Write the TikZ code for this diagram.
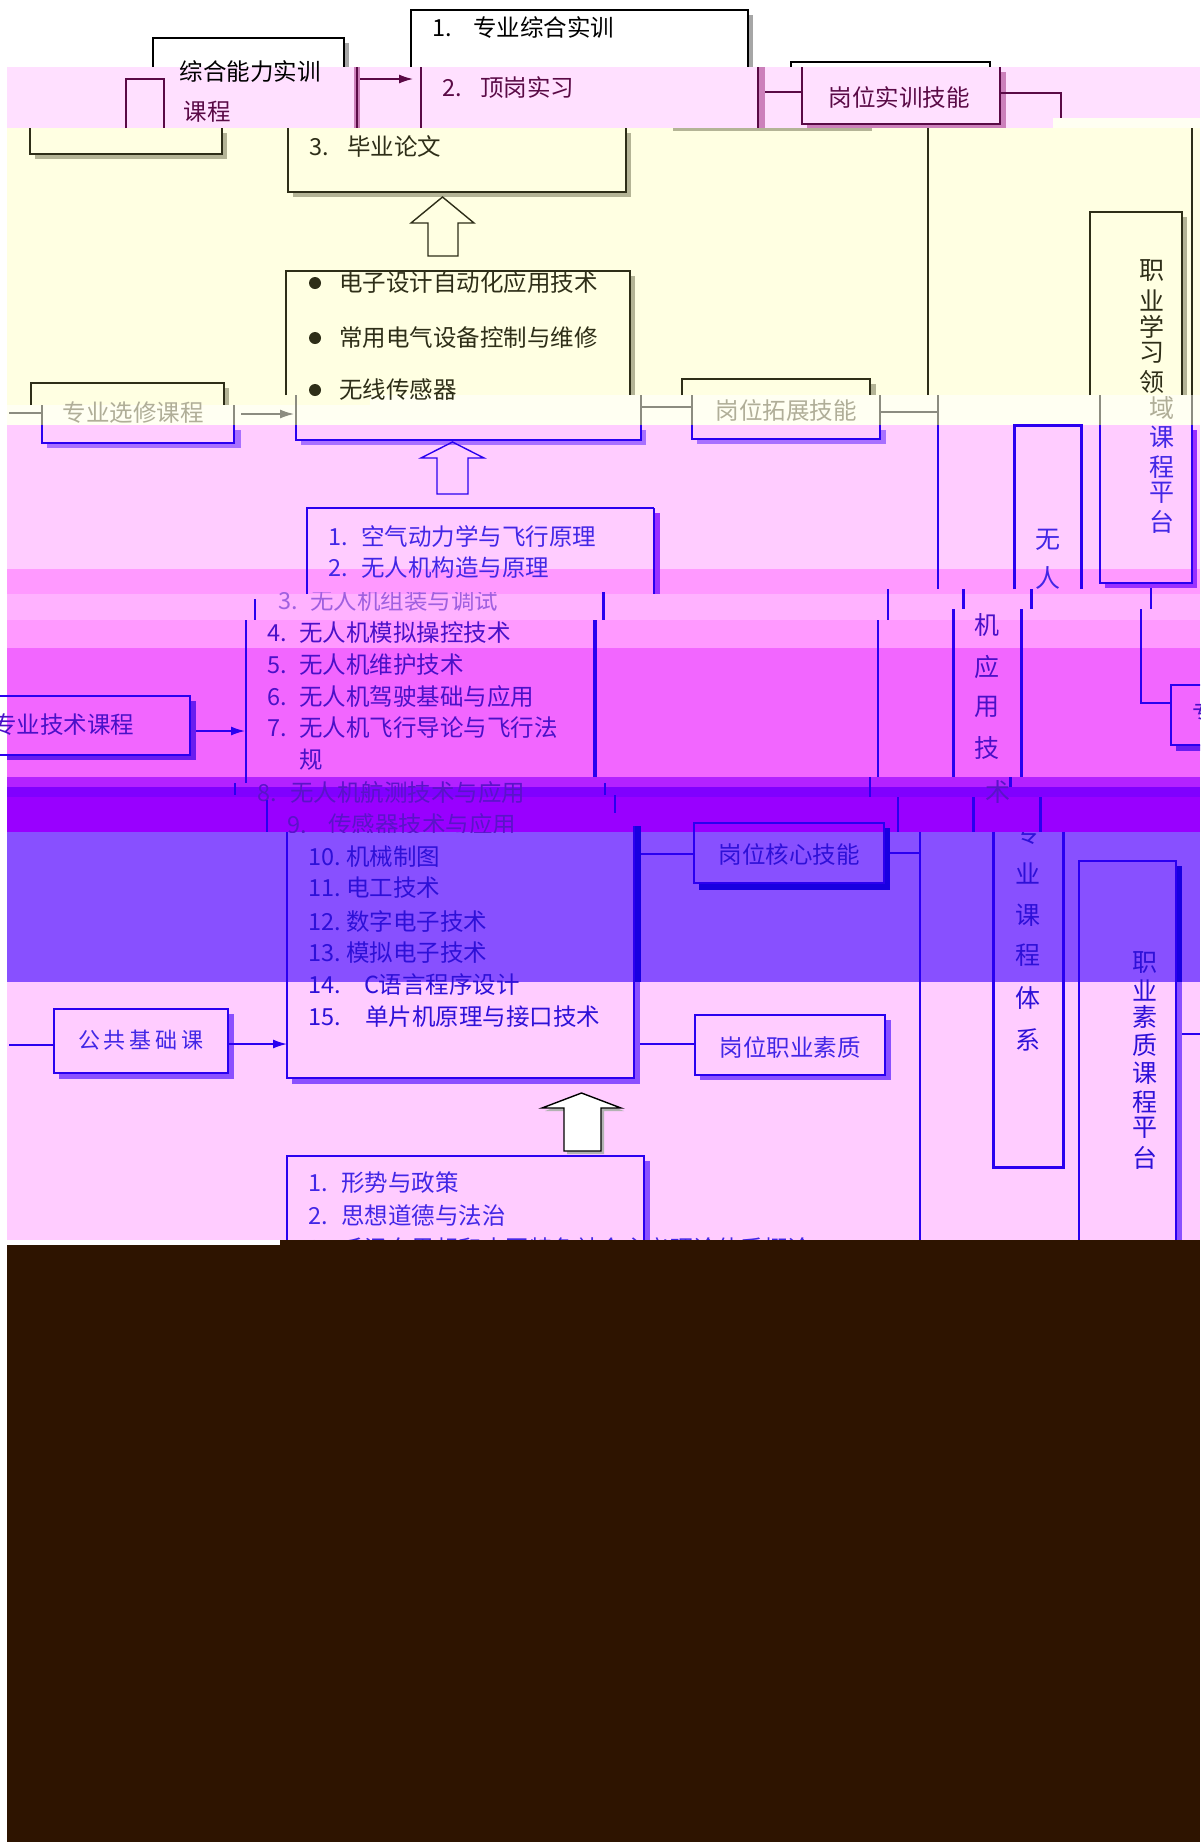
\documentclass[tikz,border=0pt]{standalone}
\usepackage{fontspec}
\newfontfamily\cjk{Noto Sans CJK SC}
\usetikzlibrary{arrows.meta}
\definecolor{pkA}{HTML}{FFE0FF}
\definecolor{yel}{HTML}{FFFFE2}
\definecolor{wht}{HTML}{FFFFF2}
\definecolor{pkB}{HTML}{FFCCFF}
\definecolor{pkC}{HTML}{FF99FF}
\definecolor{pkD}{HTML}{FFB2FF}
\definecolor{mag}{HTML}{F266FF}
\definecolor{vioA}{HTML}{B322FF}
\definecolor{vioB}{HTML}{8000FF}
\definecolor{vioC}{HTML}{9900FF}
\definecolor{pur}{HTML}{8850FF}
\definecolor{brn}{HTML}{2E1400}
\definecolor{mar}{HTML}{5A0A46}
\definecolor{marS}{HTML}{CC80BB}
\definecolor{olv}{HTML}{2E2E18}
\definecolor{olvS}{HTML}{B4B496}
\definecolor{gry}{HTML}{8C8C80}
\definecolor{gryT}{HTML}{B0AE98}
\definecolor{blu}{HTML}{2A00F0}
\definecolor{bluS}{HTML}{A870FF}
\definecolor{vS}{HTML}{9A30FF}
\definecolor{mS}{HTML}{6A1CF0}
\definecolor{bluT}{HTML}{4226E6}
\definecolor{magT}{HTML}{4A10C8}
\definecolor{vioT}{HTML}{5A14C8}
\definecolor{lilT}{HTML}{A060E0}
\definecolor{purT}{HTML}{2E10D8}
\definecolor{purS}{HTML}{1800E0}
\definecolor{lowS}{HTML}{8A50FF}
\newcommand\itm[6]{%
  \node[tx,anchor=base west] (#1n) at (#2,#4+8.5) {#5};
  \node[tx,anchor=base west] (#1t) at (#3,#4+8.5) {#6};}
\begin{document}
\begin{tikzpicture}[x=1pt,y=-1pt,
  tx/.style={font={\cjk\fontsize{23.5pt}{28pt}\selectfont}, inner sep=0pt, outer sep=0pt},
  vt/.style={font={\cjk\fontsize{25pt}{28pt}\selectfont}, inner sep=0pt, outer sep=0pt},
  ln/.style={line width=1.4pt},
  tk/.style={line width=3pt},
  arr/.style={ln,-{Latex[length=14pt,width=9pt]}},
]
\useasboundingbox (0,0) rectangle (1200,1842);
\clip (0,0) rectangle (1200,1842);
% ---------------- background bands
\fill[white] (0,0) rectangle (1200,1842);
\fill[pkA] (7,67) rectangle (1200,128);
\fill[yel] (7,128) rectangle (1200,395);
\fill[yel] (7,395) rectangle (370,405);
\fill[wht] (1053,118) rectangle (1200,128);
\fill[wht] (370,395) rectangle (1200,425);
\fill[wht] (7,405) rectangle (370,425);
\fill[pkB] (7,425) rectangle (1200,569);
\fill[pkC] (7,569) rectangle (1200,594);
\fill[pkD] (7,594) rectangle (1200,620);
\fill[pkC] (7,620) rectangle (1200,648);
\fill[mag] (7,648) rectangle (1200,777);
\fill[vioA] (7,777) rectangle (1200,787);
\fill[vioB] (7,787) rectangle (1200,797);
\fill[vioC] (7,797) rectangle (1200,832);
\fill[pur] (7,832) rectangle (1200,982);
\fill[pkB] (7,982) rectangle (1200,1240);

% ---------------- white band
\fill[gray!70] (748,15) rectangle (753,67);
\draw[ln] (411,67) |- (748,10) -- (748,67);
\itm{a1}{432}{473}{28}{1.}{专业综合实训}
\fill[gray!70] (344,43) rectangle (349,67);
\draw[ln] (153,67) |- (344,38) -- (344,67);
\draw[ln] (791,67) |- (990,62) -- (990,67);

% ---------------- pink band A
\draw[ln,mar] (126,128) |- (164,79) -- (164,128);
\fill[marS] (354,67) rectangle (360,128);
\draw[ln,mar] (357,67) -- (357,128);
\draw[arr,mar] (360,79) -- (413,79);
\draw[ln,mar] (421,67) -- (421,128);
\fill[marS] (757,67) rectangle (765,128);
\draw[ln,mar] (758,67) -- (758,128);
\draw[ln,mar] (765,92) -- (802,92);
\fill[marS] (1000,72) rectangle (1006,128);
\fill[marS] (807,124) rectangle (1006,128);
\draw[ln,mar] (802,67) |- (1000,124) -- (1000,67);
\node[tx,text=mar] (gwsx) at (899,97) {岗位实训技能};
\draw[ln,mar] (1000,93) -| (1061,118);
\node[tx,text=mar] (kc) at (207,112) {课程};
\node[tx] (zh) at (250,72) {综合能力实训};
\begin{scope}[text=mar]
\itm{a2}{442}{480}{88}{2.}{顶岗实习}
\end{scope}

% ---------------- yellow band
\fill[olvS] (222,133) rectangle (227,159);
\fill[olvS] (35,154) rectangle (227,159);
\draw[ln,olv] (30,128) |- (222,154) -- (222,128);
\fill[olvS] (626,133) rectangle (631,197);
\fill[olvS] (293,192) rectangle (631,197);
\draw[ln,olv] (288,128) |- (626,192) -- (626,128);
\fill[olvS] (673,128) rectangle (872,131);
\begin{scope}[text=olv]
\itm{a3}{309}{347}{147}{3.}{毕业论文}
\end{scope}
\draw[ln,olv] (428,256) -- (428,223) -- (411,223) -- (442.5,197) -- (474,223) -- (458,223) -- (458,256) -- cycle;
\fill[olvS] (630,276) rectangle (635,395);
\draw[ln,olv] (286,395) |- (630,271) -- (630,395);
\fill[olv] (315,283) circle (6pt);
\fill[olv] (315,338) circle (6pt);
\fill[olv] (315,390) circle (6pt);
\node[tx,text=olv,anchor=base west] (b1) at (339,291.5) {电子设计自动化应用技术};
\node[tx,text=olv,anchor=base west] (b2) at (339,346.5) {常用电气设备控制与维修};
\node[tx,text=olv,anchor=base west] (b3) at (339,398.5) {无线传感器};
\fill[olvS] (224,388) rectangle (229,405);
\draw[ln,olv] (31,405) |- (224,383) -- (224,405);
\fill[olvS] (870,384) rectangle (876,395);
\draw[ln,olv] (682,395) |- (870,379) -- (870,395);
\draw[ln,olv] (928,128) -- (928,395);
\fill[olvS] (1182,217) rectangle (1187,395);
\draw[ln,olv] (1090,395) |- (1182,212) -- (1182,395);
\draw[ln,olv] (1192,128) -- (1192,395);
\begin{scope}[text=olv]
\node[vt] (z1) at (1152,271) {职};
\node[vt] (z2) at (1152,300) {业};
\node[vt] (z3) at (1152,327) {学};
\node[vt] (z4) at (1152,353) {习};
\node[vt] (z5) at (1152,382) {领};
\end{scope}

% ---------------- whitish strip and pink band B
\fill[bluS] (234,430) rectangle (241,448);
\fill[bluS] (47,443) rectangle (241,448);
\draw[ln,gry] (42,405) -- (42,425);
\draw[ln,gry] (234,405) -- (234,425);
\draw[ln,blu] (42,425) |- (234,443) -- (234,425);
\draw[ln,gry] (9,413) -- (42,413);
\draw[arr,gry] (241,414) -- (294,414);
\node[tx,text=gryT] (zxxk) at (133,413) {专业选修课程};
\fill[bluS] (641,430) rectangle (646,445);
\fill[bluS] (301,440) rectangle (646,445);
\draw[ln,gry] (296,395) -- (296,425);
\draw[ln,gry] (641,395) -- (641,425);
\draw[ln,blu] (296,425) |- (641,440) -- (641,425);
\draw[ln,gry] (641,407) -- (692,407);
\fill[bluS] (880,430) rectangle (886,444);
\fill[bluS] (697,439) rectangle (886,444);
\draw[ln,gry] (692,395) -- (692,425);
\draw[ln,gry] (880,395) -- (880,425);
\draw[ln,blu] (692,425) |- (880,439) -- (880,425);
\node[tx,text=gryT] (gwtz) at (786,410) {岗位拓展技能};
\draw[ln,gry] (880,412) -- (938,412);
\draw[ln,gry] (938,395) -- (938,425);
\draw[ln,blu] (938,425) -- (938,589);
\fill[vS] (1192,430) rectangle (1197,588);
\fill[vS] (1105,583) rectangle (1197,588);
\draw[ln,gry] (1100,395) -- (1100,425);
\draw[ln,gry] (1192,395) -- (1192,425);
\draw[ln,blu] (1100,425) |- (1192,583) -- (1192,425);
\node[vt,text=gryT] (z6) at (1162,408) {域};
\begin{scope}[text=bluT]
\node[vt] (z7) at (1162,437) {课};
\node[vt] (z8) at (1162,467) {程};
\node[vt] (z9) at (1162,493) {平};
\node[vt] (z10) at (1162,522) {台};
\end{scope}
\begin{scope}
\clip (1000,420) rectangle (1100,589);
\draw[tk,blu] (1014,589) |- (1081,425) -- (1081,589);
\node[vt,text=bluT] (w1) at (1048,540) {无};
\node[vt,text=bluT] (w2) at (1048,578) {人};
\end{scope}
\draw[ln,blu] (437,494) -- (437,458) -- (421,458) -- (452.5,442) -- (484,458) -- (468,458) -- (468,494) -- cycle;
\fill[vS] (654,513) rectangle (660,594);
\draw[ln,blu] (307,594) |- (654,508);
\draw[line width=2.5pt,blu] (654,508) -- (654,594);
\begin{scope}[text=bluT]
\itm{c1}{328}{361}{537}{1.}{空气动力学与飞行原理}
\itm{c2}{328}{361}{568}{2.}{无人机构造与原理}
\end{scope}
\begin{scope}
\clip (200,592) rectangle (700,620);
\draw[ln,blu] (255,599) -- (255,620);
\draw[tk,blu] (603,589) -- (603,620);
\begin{scope}[text=lilT]
\itm{c3}{278}{310}{601}{3.}{无人机组装与调试}
\end{scope}
\end{scope}

% ---------------- magenta bands
\draw[ln,blu] (1151,588) -- (1151,609);
\draw[ln,blu] (1141,609) |- (1171,703);
\fill[mS] (1176,745) rectangle (1210,751);
\draw[ln,blu] (1171,685) rectangle (1215,745);
\node[tx,text=magT,anchor=west] (zr) at (1192,713) {专};
\draw[ln,blu] (888,589) -- (888,620);
\draw[ln,blu] (878,620) -- (878,777);
\draw[tk,blu] (963.5,589) -- (963.5,609);
\draw[tk,blu] (1031.5,589) -- (1031.5,609);
\draw[tk,blu] (953,609) -- (953,777);
\draw[tk,blu] (1021,609) -- (1021,777);
\begin{scope}[text=magT]
\node[vt] (w3) at (987,625) {机};
\node[vt] (w4) at (987,667) {应};
\node[vt] (w5) at (987,707) {用};
\node[vt] (w6) at (987,748) {技};
\end{scope}
\fill[mS] (190,701) rectangle (196,760);
\fill[mS] (7,755) rectangle (196,760);
\draw[ln,blu] (-10,696) -| (190,755) -- (-10,755);
\node[tx,text=magT] (zyjs) at (64,725) {专业技术课程};
\draw[arr,blu] (196,731) -- (245,731);
\draw[ln,blu] (246,620) -- (246,783);
\draw[line width=4pt,blu] (595,620) -- (595,777);
\begin{scope}[text=magT]
\itm{c4}{267}{299}{633}{4.}{无人机模拟操控技术}
\itm{c5}{267}{299}{665}{5.}{无人机维护技术}
\itm{c6}{267}{299}{697}{6.}{无人机驾驶基础与应用}
\itm{c7}{267}{299}{728}{7.}{无人机飞行导论与飞行法}
\node[tx,anchor=base west] (c7b) at (299,768.5) {规};
\end{scope}

% ---------------- violet bands
\begin{scope}
\clip (7,777) rectangle (1200,832);
\begin{scope}[text=vioT]
\itm{c8}{257}{290}{793}{8.}{无人机航测技术与应用}
\itm{c9}{287}{328}{825}{9.}{传感器技术与应用}
\node[vt] (w7) at (998,792) {术};
\end{scope}
\end{scope}
\draw[ln,blu] (235,783) -- (235,795);
\draw[ln,blu] (267,800) -- (267,832);
\draw[ln,blu] (605,783) -- (605,795);
\draw[ln,blu] (615,795) -- (615,813);
\draw[ln,blu] (870,777) -- (870,797);
\draw[ln,blu] (898,797) -- (898,832);
\draw[tk,blu] (1010,777) -- (1010,787);
\draw[tk,blu] (973,797) -- (973,832);
\draw[tk,blu] (1040,797) -- (1040,832);

% ---------------- purple band and lower pink band
\fill[purS] (634,826) rectangle (641,982);
\fill[lowS] (634,982) rectangle (640,1084);
\fill[lowS] (292,1078) rectangle (640,1084);
\draw[ln,blu] (287,832) |- (634,1078) -- (634,826);
\begin{scope}[text=purT]
\itm{d10}{308}{346}{857}{10.}{机械制图}
\itm{d11}{308}{346}{888}{11.}{电工技术}
\itm{d12}{308}{346}{922}{12.}{数字电子技术}
\itm{d13}{308}{346}{953}{13.}{模拟电子技术}
\itm{d14}{308}{364}{985}{14.}{C语言程序设计}
\itm{d15}{308}{365}{1017}{15.}{单片机原理与接口技术}
\end{scope}
\fill[purS] (884,828) rectangle (890,890);
\fill[purS] (699,883) rectangle (890,890);
\draw[ln,blu] (694,823) rectangle (884,883);
\node[tx,text=purT] (gwhx) at (789,854) {岗位核心技能};
\draw[ln,blu] (641,854) -- (694,854);
\draw[ln,blu] (890,853) -- (920,853);
\draw[ln,blu] (920,832) -- (920,1240);
\begin{scope}
\clip (980,832) rectangle (1080,1180);
\draw[tk,blu] (993,832) |- (1063,1167) -- (1063,832);
\begin{scope}[text=purT]
\node[vt] (w8) at (1028,833) {专};
\node[vt] (w9) at (1028,873) {业};
\node[vt] (w10) at (1028,915) {课};
\node[vt] (w11) at (1028,955) {程};
\node[vt] (w12) at (1028,998) {体};
\node[vt] (w13) at (1028,1040) {系};
\end{scope}
\end{scope}
\fill[purS] (1176,866) rectangle (1182,982);
\fill[lowS] (1176,982) rectangle (1182,1240);
\draw[ln,blu] (1079,1240) |- (1176,861) -- (1176,1240);
\draw[ln,blu] (1182,1034) -- (1200,1034);
\begin{scope}[text=purT]
\node[vt] (y1) at (1145,963) {职};
\node[vt] (y2) at (1145,990) {业};
\node[vt] (y3) at (1145,1017) {素};
\node[vt] (y4) at (1145,1045) {质};
\node[vt] (y5) at (1145,1073) {课};
\node[vt] (y6) at (1145,1102) {程};
\node[vt] (y7) at (1145,1128) {平};
\node[vt] (y8) at (1145,1158) {台};
\end{scope}
\fill[lowS] (228,1014) rectangle (234,1079);
\fill[lowS] (59,1073) rectangle (234,1079);
\draw[ln,blu] (54,1009) rectangle (228,1073);
\node[font={\cjk\fontsize{22pt}{26pt}\selectfont},inner sep=0pt,text=bluT] (ggjc) at (141,1040) {公\hspace{4pt}共\hspace{4pt}基\hspace{4pt}础\hspace{4pt}课};
\draw[ln,blu] (9,1045) -- (54,1045);
\draw[arr,blu] (228,1044) -- (287,1044);
\fill[lowS] (885,1020) rectangle (891,1080);
\fill[lowS] (700,1075) rectangle (891,1080);
\draw[ln,blu] (695,1015) rectangle (885,1075);
\node[tx,text=bluT] (gwzy) at (790,1047) {岗位职业素质};
\draw[ln,blu] (640,1044) -- (695,1044);
\fill[gray!60] (567,1154) -- (567,1111) -- (545,1111) -- (584.5,1096) -- (624,1111) -- (604,1111) -- (604,1154) -- cycle;
\draw[ln,fill=white] (564,1151) -- (564,1108) -- (542,1108) -- (581.5,1093) -- (621,1108) -- (601,1108) -- (601,1151) -- cycle;
\fill[lowS] (644,1161) rectangle (650,1240);
\draw[ln,blu] (287,1240) |- (644,1156) -- (644,1240);
\begin{scope}[text=bluT]
\itm{e1}{308}{341}{1183}{1.}{形势与政策}
\itm{e2}{308}{341}{1216}{2.}{思想道德与法治}
\itm{e3}{308}{341}{1249}{3.}{毛泽东思想和中国特色社会主义理论体系概论}
\end{scope}

% ---------------- dark bottom
\fill[brn] (280,1240) rectangle (1200,1842);
\fill[brn] (7,1245) rectangle (280,1842);
\end{tikzpicture}
\end{document}
